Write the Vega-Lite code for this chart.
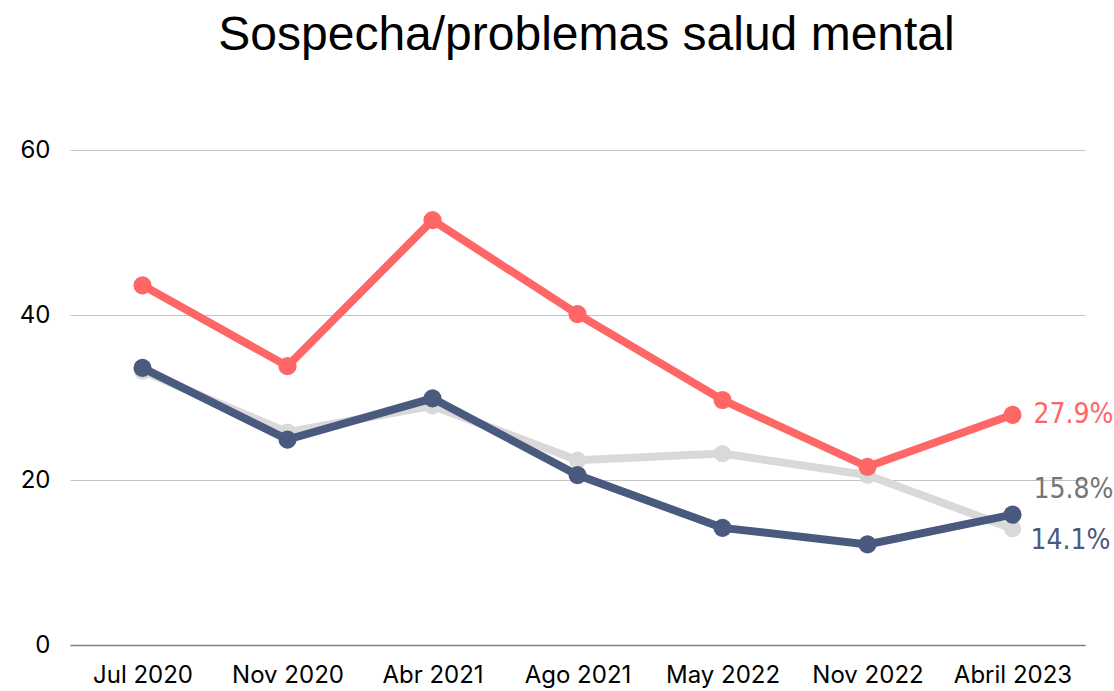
{
  "$schema": "https://vega.github.io/schema/vega-lite/v6.json",
  "width": 1015,
  "height": 495,
  "autosize": {"type": "none"},
  "padding": {"left": 70, "right": 29, "top": 150, "bottom": 46},
  "background": "white",
  "view": {"stroke": null},
  "title": {
    "text": "Sospecha/problemas salud mental",
    "font": "Liberation Sans",
    "fontSize": 48,
    "fontWeight": "normal",
    "color": "#000000",
    "anchor": "middle",
    "dx": 9,
    "offset": 78
  },
  "data": {
    "values": [
      {"fecha": "Jul 2020", "serie": "Grupo gris", "valor": 33.2},
      {"fecha": "Nov 2020", "serie": "Grupo gris", "valor": 25.8},
      {"fecha": "Abr 2021", "serie": "Grupo gris", "valor": 29.0},
      {"fecha": "Ago 2021", "serie": "Grupo gris", "valor": 22.4},
      {"fecha": "May 2022", "serie": "Grupo gris", "valor": 23.2},
      {"fecha": "Nov 2022", "serie": "Grupo gris", "valor": 20.6},
      {"fecha": "Abril 2023", "serie": "Grupo gris", "valor": 14.1},
      {"fecha": "Jul 2020", "serie": "Grupo azul", "valor": 33.6},
      {"fecha": "Nov 2020", "serie": "Grupo azul", "valor": 24.9},
      {"fecha": "Abr 2021", "serie": "Grupo azul", "valor": 29.9},
      {"fecha": "Ago 2021", "serie": "Grupo azul", "valor": 20.6},
      {"fecha": "May 2022", "serie": "Grupo azul", "valor": 14.2},
      {"fecha": "Nov 2022", "serie": "Grupo azul", "valor": 12.2},
      {"fecha": "Abril 2023", "serie": "Grupo azul", "valor": 15.8},
      {"fecha": "Jul 2020", "serie": "Grupo rojo", "valor": 43.6},
      {"fecha": "Nov 2020", "serie": "Grupo rojo", "valor": 33.8},
      {"fecha": "Abr 2021", "serie": "Grupo rojo", "valor": 51.5},
      {"fecha": "Ago 2021", "serie": "Grupo rojo", "valor": 40.1},
      {"fecha": "May 2022", "serie": "Grupo rojo", "valor": 29.7},
      {"fecha": "Nov 2022", "serie": "Grupo rojo", "valor": 21.6},
      {"fecha": "Abril 2023", "serie": "Grupo rojo", "valor": 27.9}
    ]
  },
  "encoding": {
    "x": {
      "field": "fecha",
      "type": "ordinal",
      "sort": ["Jul 2020", "Nov 2020", "Abr 2021", "Ago 2021", "May 2022", "Nov 2022", "Abril 2023"],
      "scale": {"type": "point", "padding": 0.5},
      "axis": {
        "title": null,
        "labelAngle": 0,
        "labelFont": "Inter",
        "labelFontSize": 24,
        "labelColor": "#000000",
        "labelPadding": 18,
        "ticks": false,
        "domain": true,
        "domainColor": "#7f7f7f",
        "domainWidth": 1.5,
        "grid": false
      }
    },
    "y": {
      "field": "valor",
      "type": "quantitative",
      "scale": {"domain": [0, 60], "nice": false},
      "axis": {
        "title": null,
        "values": [0, 20, 40, 60],
        "labelFont": "Inter",
        "labelFontSize": 24,
        "labelColor": "#000000",
        "labelPadding": 20,
        "ticks": false,
        "domain": false,
        "grid": true,
        "gridColor": "#c4c4c4",
        "gridWidth": 1.2
      }
    },
    "color": {
      "field": "serie",
      "type": "nominal",
      "scale": {
        "domain": ["Grupo gris", "Grupo azul", "Grupo rojo"],
        "range": ["#d9d9d9", "#4a5a7e", "#ff6666"]
      },
      "legend": null
    }
  },
  "layer": [
    {
      "transform": [{"filter": "datum.serie == 'Grupo gris'"}],
      "mark": {"type": "line", "strokeWidth": 8, "point": {"filled": true, "size": 300, "opacity": 1}}
    },
    {
      "transform": [{"filter": "datum.serie == 'Grupo azul'"}],
      "mark": {"type": "line", "strokeWidth": 8, "point": {"filled": true, "size": 330, "opacity": 1}}
    },
    {
      "transform": [{"filter": "datum.serie == 'Grupo rojo'"}],
      "mark": {"type": "line", "strokeWidth": 8, "point": {"filled": true, "size": 330, "opacity": 1}}
    },
    {
      "transform": [
        {"filter": "datum.serie == 'Grupo rojo' && datum.fecha == 'Abril 2023'"},
        {"calculate": "format(datum.valor, '.1f') + '%'", "as": "etiqueta"}
      ],
      "mark": {"type": "text", "align": "left", "baseline": "middle", "dx": 21, "dy": 0, "font": "DejaVu Sans Condensed", "fontSize": 28},
      "encoding": {"text": {"field": "etiqueta"}, "color": {"value": "#ff6666"}}
    },
    {
      "transform": [
        {"filter": "datum.serie == 'Grupo azul' && datum.fecha == 'Abril 2023'"},
        {"calculate": "format(datum.valor, '.1f') + '%'", "as": "etiqueta"}
      ],
      "mark": {"type": "text", "align": "left", "baseline": "middle", "dx": 21, "dy": -25, "font": "DejaVu Sans Condensed", "fontSize": 28},
      "encoding": {"text": {"field": "etiqueta"}, "color": {"value": "#757575"}}
    },
    {
      "transform": [
        {"filter": "datum.serie == 'Grupo gris' && datum.fecha == 'Abril 2023'"},
        {"calculate": "format(datum.valor, '.1f') + '%'", "as": "etiqueta"}
      ],
      "mark": {"type": "text", "align": "left", "baseline": "middle", "dx": 18, "dy": 12, "font": "DejaVu Sans Condensed", "fontSize": 28},
      "encoding": {"text": {"field": "etiqueta"}, "color": {"value": "#4a5a7e"}}
    }
  ]
}
